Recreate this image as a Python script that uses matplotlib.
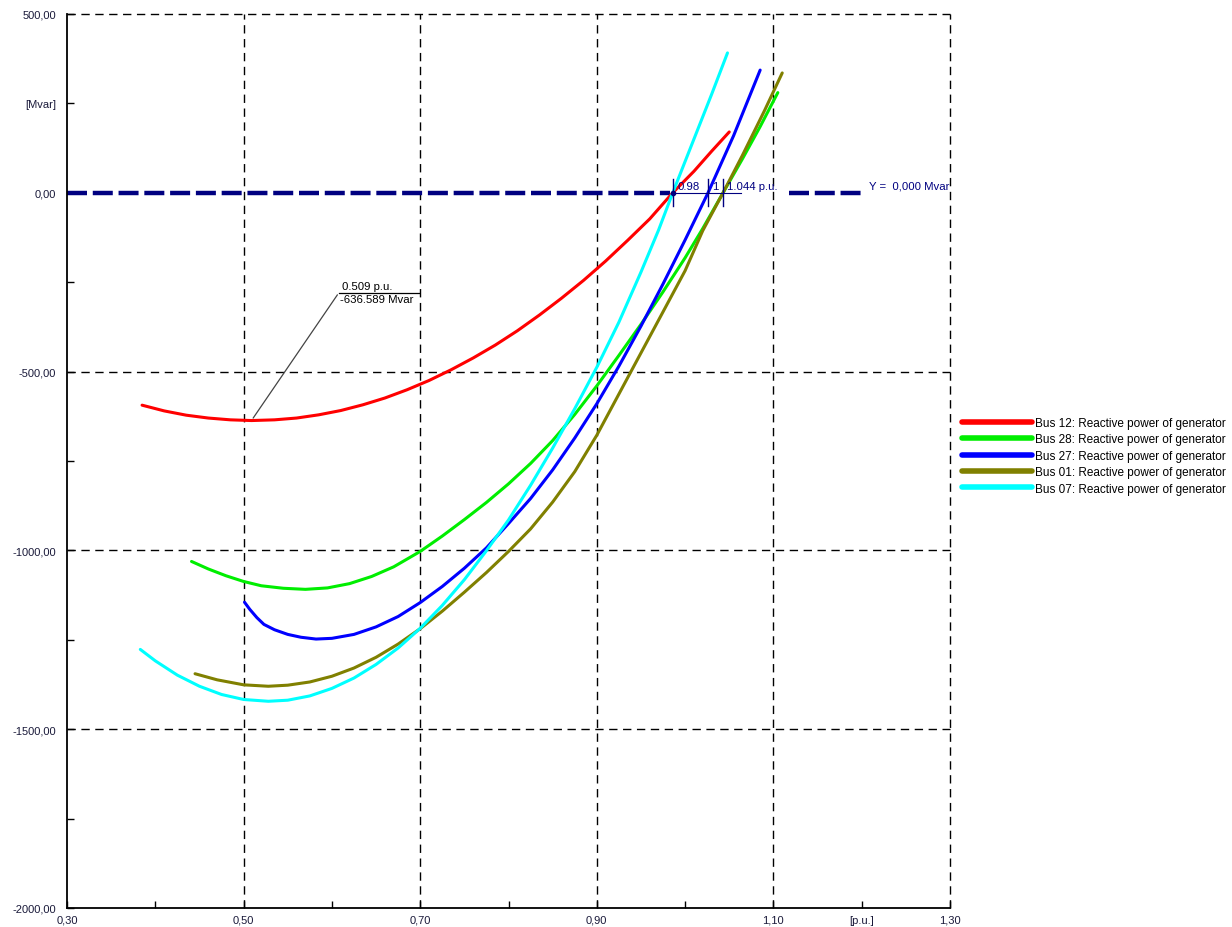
import matplotlib
matplotlib.use("Agg")
import matplotlib.pyplot as plt

plt.rcParams['font.family'] = ['Liberation Sans', 'DejaVu Sans']

# Bus 12
x_bus12 = [0.385, 0.41, 0.435, 0.46, 0.485, 0.509, 0.535, 0.56, 0.585, 0.61, 0.635, 0.66, 0.685,
           0.71, 0.735, 0.76, 0.785, 0.81, 0.835, 0.86, 0.885, 0.91, 0.935, 0.96, 0.986, 1.01, 1.03, 1.05]
y_bus12 = [-594, -610, -622, -630, -635, -637, -635, -630, -621, -609, -593, -574, -551,
           -525, -495, -462, -426, -386, -342, -295, -245, -191, -133, -73, 0, 60, 116, 170]
# Bus 28
x_bus28 = [0.441, 0.46, 0.48, 0.50, 0.52, 0.545, 0.57, 0.595, 0.62, 0.645, 0.67, 0.70, 0.725, 0.75,
           0.775, 0.80, 0.825, 0.85, 0.875, 0.90, 0.925, 0.95, 0.975, 1.00, 1.02, 1.043, 1.065, 1.085, 1.105]
y_bus28 = [-1031, -1052, -1071, -1087, -1099, -1106, -1109, -1105, -1093, -1073, -1046, -1003, -960, -914,
           -866, -814, -757, -693, -620, -540, -455, -368, -277, -182, -100, 0, 95, 185, 280]
# Bus 27
x_bus27 = [0.501, 0.507, 0.515, 0.523, 0.535, 0.55, 0.565, 0.582, 0.60, 0.625, 0.65, 0.675, 0.70, 0.725,
           0.75, 0.775, 0.80, 0.825, 0.85, 0.875, 0.90, 0.925, 0.95, 0.975, 1.00, 1.026, 1.055, 1.085]
y_bus27 = [-1145, -1165, -1188, -1207, -1222, -1235, -1243, -1248, -1246, -1235, -1214, -1185, -1146, -1101,
           -1050, -993, -925, -855, -775, -686, -590, -485, -373, -255, -132, 0, 160, 343]
# Bus 01
x_bus01 = [0.445, 0.47, 0.50, 0.528, 0.55, 0.575, 0.60, 0.625, 0.65, 0.675, 0.70, 0.725, 0.75, 0.775,
           0.80, 0.825, 0.85, 0.875, 0.90, 0.925, 0.95, 0.975, 1.00, 1.02, 1.043, 1.065, 1.09, 1.11]
y_bus01 = [-1345, -1362, -1376, -1380, -1377, -1368, -1352, -1329, -1299, -1262, -1219, -1170, -1117, -1062,
           -1003, -940, -865, -780, -678, -563, -448, -333, -218, -106, 0, 105, 230, 335]
# Bus 07
x_bus07 = [0.383, 0.40, 0.425, 0.45, 0.475, 0.50, 0.528, 0.55, 0.575, 0.60, 0.625, 0.65, 0.675, 0.70,
           0.725, 0.75, 0.775, 0.80, 0.825, 0.85, 0.875, 0.90, 0.925, 0.95, 0.97, 0.986, 1.01, 1.03, 1.048]
y_bus07 = [-1277, -1309, -1349, -1380, -1403, -1417, -1422, -1419, -1407, -1386, -1357, -1319, -1273, -1218,
           -1154, -1082, -1001, -915, -818, -714, -604, -488, -362, -222, -104, 0, 150, 275, 391]

series = [
    (x_bus12, y_bus12, '#ff0000', 'Bus 12: Reactive power of generator'),
    (x_bus28, y_bus28, '#00ee00', 'Bus 28: Reactive power of generator'),
    (x_bus27, y_bus27, '#0000ff', 'Bus 27: Reactive power of generator'),
    (x_bus01, y_bus01, '#808000', 'Bus 01: Reactive power of generator'),
    (x_bus07, y_bus07, '#00ffff', 'Bus 07: Reactive power of generator'),
]

x_ticks = [0.3, 0.4, 0.5, 0.6, 0.7, 0.8, 0.9, 1.0, 1.1, 1.2, 1.3]
x_labels = ['0,30', '', '0,50', '', '0,70', '', '0,90', '', '1,10', '[p.u.]', '1,30']
y_ticks = [-2000, -1750, -1500, -1250, -1000, -750, -500, -250, 0, 250, 500]
y_labels = ['-2000,00', '', '-1500,00', '', '-1000,00', '', '-500,00', '', '0,00', '[Mvar]', '500,00']

cross_x = [0.986, 1.026, 1.043]
cross_txt = ['0.98', '1', '1.044 p.u.']
navy = '#000080'
fs = 8.2

fig = plt.figure(figsize=(12.32, 9.28), dpi=100)
ax = fig.add_axes([0.0544, 0.0205, 0.7167, 0.9634])

for xv in [0.5, 0.7, 0.9, 1.1, 1.3]:
    ax.axvline(xv, color='black', lw=1.0, ls=(0, (6, 4)), zorder=1, clip_on=False)
for yv in [500, -500, -1000, -1500]:
    ax.axhline(yv, color='black', lw=1.0, ls=(0, (6, 4)), zorder=1, clip_on=False)

# Y = 0 reference line
ax.plot([0.3, 0.983], [0, 0], color=navy, lw=3.2, ls=(0, (4.5, 1.3)), zorder=2)
ax.plot([1.118, 1.202], [0, 0], color=navy, lw=3.2, ls=(0, (4.5, 1.3)), zorder=2)
ax.text(1.208, 20, 'Y =  0,000 Mvar', color=navy, fontsize=fs, va='center', ha='left')

lines = []
for xs, ys, c, lab in series:
    ln, = ax.plot(xs, ys, color=c, lw=2.2, label=lab, zorder=3,
                  solid_capstyle='round', solid_joinstyle='round')
    lines.append(ln)

# crossing markers
for i, (xc, t) in enumerate(zip(cross_x, cross_txt)):
    ax.plot([xc, xc], [-38, 38], color=navy, lw=1.0, zorder=5)
    xe = cross_x[i + 1] if i + 1 < len(cross_x) else xc + 0.02
    ax.plot([xc, xe], [0, 0], color=navy, lw=0.8, zorder=5)
    ax.text(xc + 0.005, 18, t, color=navy, fontsize=fs, va='center', ha='left', zorder=4)
ax.plot(cross_x[0], 0, marker='o', ms=3, color=navy, zorder=6)

# min annotation
ax.annotate('', xy=(0.509, -636.589), xytext=(0.608, -279),
            arrowprops=dict(arrowstyle='-', color='#444444', lw=0.9), zorder=6)
ax.plot([0.608, 0.699], [-279, -279], color='black', lw=0.9, zorder=6)
ax.text(0.611, -274, '0.509 p.u.', fontsize=fs, va='bottom', ha='left')
ax.text(0.609, -283, '-636.589 Mvar', fontsize=fs, va='top', ha='left')

ax.set_xlim(0.3, 1.3)
ax.set_ylim(-2000, 500)
ax.set_xticks(x_ticks)
ax.set_xticklabels(x_labels)
ax.set_yticks(y_ticks)
ax.set_yticklabels(y_labels)
ax.tick_params(direction='in', length=5, width=1, labelsize=8, colors='black')
ax.tick_params(axis='x', pad=5)
ax.tick_params(axis='y', pad=8)
for lbl in ax.get_xticklabels() + ax.get_yticklabels():
    lbl.set_color('#1a1a3a')
ax.spines['top'].set_visible(False)
ax.spines['right'].set_visible(False)
ax.spines['left'].set_linewidth(1.3)
ax.spines['bottom'].set_linewidth(1.3)

leg = fig.legend(handles=lines, loc='upper left', bbox_to_anchor=(0.777, 0.555),
                 frameon=False, fontsize=8.5, handlelength=5.9, handletextpad=0.25,
                 labelspacing=0.38, borderaxespad=0)
for h in leg.get_lines():
    h.set_linewidth(4)

fig.savefig('out.png', dpi=100)
